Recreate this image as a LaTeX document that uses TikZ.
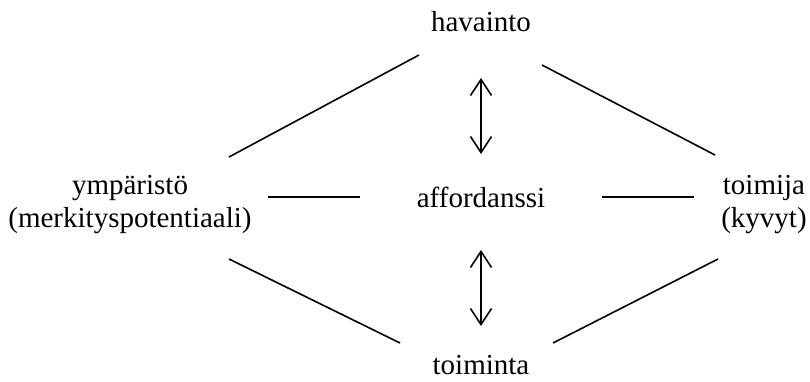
\documentclass[tikz,border=0pt]{standalone}
\usepackage{fontspec}
\setmainfont{Liberation Serif}
\usetikzlibrary{arrows.meta}
\begin{document}
\begin{tikzpicture}[x=1pt,y=-1pt,
  lbl/.style={font=\fontsize{29}{33}\selectfont, inner sep=0pt, align=center},
  link/.style={line width=1.6pt},
  dbl/.style={line width=1.6pt, {Straight Barb[length=16pt,width=21pt]}-{Straight Barb[length=16pt,width=21pt]}}]
\useasboundingbox (0,0) rectangle (810,382);
\node[lbl, anchor=base] (hav) at (481,32) {havainto};
\node[lbl, anchor=base] (aff) at (481,207) {affordanssi};
\node[lbl, anchor=base] (toim) at (481,374) {toiminta};
\node[lbl, anchor=base] (ymp) at (130,227) {ympäristö\\(merkityspotentiaali)};
\node[lbl, anchor=base] (tj) at (764,227) {toimija\\(kyvyt)};
\coordinate (tl1) at (229,157); \coordinate (tl2) at (419,55);
\coordinate (tr1) at (542,65);  \coordinate (tr2) at (715,155);
\coordinate (ml1) at (268,197); \coordinate (ml2) at (360,197);
\coordinate (mr1) at (602,197); \coordinate (mr2) at (694,197);
\coordinate (bl1) at (229,259); \coordinate (bl2) at (400,343);
\coordinate (br1) at (553,343); \coordinate (br2) at (718,259);
\coordinate (a1t) at (481,78);  \coordinate (a1b) at (481,154);
\coordinate (a2t) at (481,250); \coordinate (a2b) at (481,326);
\draw[link] (tl1) -- (tl2);
\draw[link] (tr1) -- (tr2);
\draw[link] (ml1) -- (ml2);
\draw[link] (mr1) -- (mr2);
\draw[link] (bl1) -- (bl2);
\draw[link] (br1) -- (br2);
\draw[dbl] (a1t) -- (a1b);
\draw[dbl] (a2t) -- (a2b);
\end{tikzpicture}
\end{document}
